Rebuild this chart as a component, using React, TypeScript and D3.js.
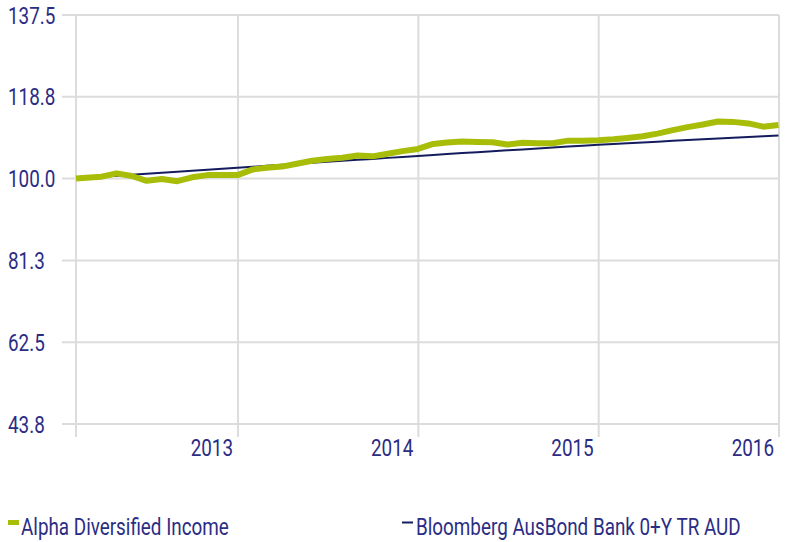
import React from "react";
import * as d3 from "d3";

const dates: string[] = [
  "2012-02-08", "2012-02-29", "2012-03-31", "2012-04-30", "2012-05-31", "2012-06-30", "2012-07-31", "2012-08-31", "2012-09-30", "2012-10-31", "2012-11-30", "2012-12-31",
  "2013-01-31", "2013-02-28", "2013-03-31", "2013-04-30", "2013-05-31", "2013-06-30", "2013-07-31", "2013-08-31", "2013-09-30", "2013-10-31", "2013-11-30", "2013-12-31",
  "2014-01-31", "2014-02-28", "2014-03-31", "2014-04-30", "2014-05-31", "2014-06-30", "2014-07-31", "2014-08-31", "2014-09-30", "2014-10-31", "2014-11-30", "2014-12-31",
  "2015-01-31", "2015-02-28", "2015-03-31", "2015-04-30", "2015-05-31", "2015-06-30", "2015-07-31", "2015-08-31", "2015-09-30", "2015-10-31", "2015-11-30", "2015-12-31",
];

const alphaValues: number[] = [
  100.0, 100.2, 100.45, 101.2, 100.6, 99.5, 99.9, 99.4, 100.3, 100.8, 100.8, 100.8,
  102.1, 102.5, 102.75, 103.4, 104.1, 104.5, 104.8, 105.3, 105.1, 105.7, 106.3, 106.8,
  107.95, 108.25, 108.5, 108.4, 108.35, 107.8, 108.2, 108.1, 108.1, 108.7, 108.7, 108.8,
  109.0, 109.3, 109.7, 110.3, 111.1, 111.8, 112.4, 113.1, 113.0, 112.65, 111.9, 112.3,
];

const bankValues: number[] = [
  100.0, 100.16, 100.4, 100.63, 100.86, 101.09, 101.33, 101.56, 101.79, 102.03, 102.26, 102.5,
  102.72, 102.95, 103.17, 103.4, 103.62, 103.85, 104.07, 104.3, 104.52, 104.75, 104.97, 105.2,
  105.41, 105.62, 105.84, 106.05, 106.26, 106.48, 106.69, 106.9, 107.12, 107.33, 107.54, 107.75,
  107.93, 108.11, 108.29, 108.47, 108.65, 108.83, 109.0, 109.18, 109.36, 109.54, 109.72, 109.9,
];

const yTickValues: number[] = [43.75, 62.5, 81.25, 100, 118.75, 137.5];
const yTickLabels: string[] = ["43.8", "62.5", "81.3", "100.0", "118.8", "137.5"];
const xTickLabels: string[] = ["2013", "2014", "2015", "2016"];
const seriesNames: string[] = ["Alpha Diversified Income", "Bloomberg AusBond Bank 0+Y TR AUD"];

const domainStart = "2012-02-08";
const domainEnd = "2016-01-01";

const TEXT = "#2b2d84";
const GRID = "#dcdcdc";
const GREEN = "#a7bd08";
const NAVY = "#141c5e";
const FONT = "Roboto, 'Noto Sans', sans-serif";
const SX = 0.82;
const FS = 23;

function T({ x, y, anchor = "start", children }: { x: number; y: number; anchor?: string; children: React.ReactNode }) {
  return (
    <text transform={`translate(${x},${y}) scale(${SX},1)`} fontSize={FS} fill={TEXT} textAnchor={anchor}>
      {children}
    </text>
  );
}

export default function App() {
  const parse = d3.timeParse("%Y-%m-%d");
  const left = 76, right = 779, top = 15, bottom = 424;
  const x = d3.scaleTime().domain([parse(domainStart)!, parse(domainEnd)!]).range([left, right]);
  const y = d3.scaleLinear().domain([43.75, 137.5]).range([bottom, top]);

  const alpha = dates.map((d, i) => ({ date: parse(d)!, v: alphaValues[i] }));
  const bank = dates.map((d, i) => ({ date: parse(d)!, v: bankValues[i] }));
  const line = d3.line<{ date: Date; v: number }>().x((d) => x(d.date)).y((d) => y(d.v));

  const yearDates = xTickLabels.map((t) => parse(`${t}-01-01`)!);
  const vLines = [x.domain()[0], ...yearDates];

  return (
    <svg width={788} height={542} style={{ position: "absolute", left: 0, top: 0, background: "#fff" }} fontFamily={FONT}>
      {yTickValues.map((t, i) => (
        <g key={`y${i}`}>
          <line x1={62} x2={right} y1={y(t)} y2={y(t)} stroke={GRID} strokeWidth={2} />
          <T x={8} y={y(t) + 8.5}>{yTickLabels[i]}</T>
        </g>
      ))}
      {vLines.map((d, i) => (
        <line key={`v${i}`} x1={x(d)} x2={x(d)} y1={top} y2={437} stroke={GRID} strokeWidth={2} />
      ))}
      {yearDates.map((d, i) => (
        <T key={`xl${i}`} x={x(d) - 5} y={456} anchor="end">{xTickLabels[i]}</T>
      ))}
      <path d={line(bank) || ""} fill="none" stroke={NAVY} strokeWidth={2} />
      <path d={line(alpha) || ""} fill="none" stroke={GREEN} strokeWidth={6} strokeLinejoin="round" />

      <rect x={8} y={520} width={11} height={5} fill={GREEN} />
      <T x={21} y={535}>{seriesNames[0]}</T>
      <line x1={402} x2={413} y1={522.5} y2={522.5} stroke={NAVY} strokeWidth={2} />
      <T x={416} y={535}>{seriesNames[1]}</T>
    </svg>
  );
}
